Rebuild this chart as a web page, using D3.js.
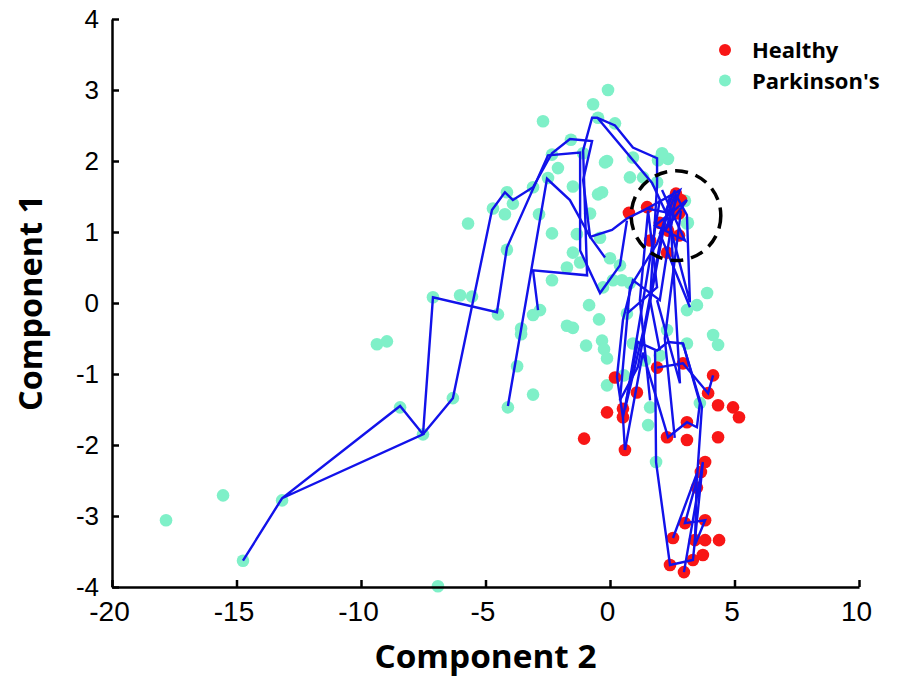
<!DOCTYPE html>
<html>
<head>
<meta charset="utf-8">
<script src="https://cdn.jsdelivr.net/npm/d3@7"></script>
<style>
  body { margin: 0; background: #fff; }
  svg { display: block; }
</style>
</head>
<body>
<div class="canva"></div>
<script>
// Parkinson's samples [component 2, component 1]
const parkinsons = [
  [-0.08, 3.0], [-0.68, 2.80], [-2.69, 2.56], [-0.48, 2.61], [0.2, 2.53], [-1.57, 2.30],
  [-2.33, 2.09], [-0.12, 2.0], [-2.09, 1.90], [-1.08, 2.11], [0.8, 1.77], [-0.48, 1.53],
  [-1.49, 1.64], [-2.49, 1.76], [-3.09, 1.63], [-4.14, 1.56], [-3.9, 1.40], [-4.7, 1.33],
  [-4.22, 1.25], [-5.7, 1.12], [-2.85, 1.25], [-2.33, 0.98], [-1.33, 0.97], [-0.8, 1.26],
  [-0.4, 0.92], [-1.49, 0.71], [-1.2, 0.57], [-1.73, 0.50], [-2.33, 0.32], [-4.14, 0.75],
  [0.0, 0.63], [0.4, 0.53], [0.12, 0.32], [-0.28, 0.22], [0.48, 0.32], [0.8, 0.28],
  [0.92, 2.05], [2.33, 2.03], [1.93, 2.01], [1.33, 1.77], [3.01, 1.44], [3.09, 1.12],
  [3.9, 0.14], [-6.02, 0.11], [-7.11, 0.08], [-5.54, 0.09], [-4.5, -0.16], [-2.81, -0.10],
  [-3.09, -0.17], [-3.57, -0.36], [-3.57, -0.44], [-3.73, -0.89], [-3.09, -1.29], [-4.1, -1.47],
  [-6.31, -1.34], [-7.51, -1.85], [-8.43, -1.47], [-9.36, -0.58], [-8.96, -0.54], [-15.54, -2.71],
  [-17.83, -3.06], [-13.17, -2.78], [-14.74, -3.63], [-6.91, -3.99], [-1.73, -0.32], [-1.49, -0.35],
  [-0.84, -0.03], [-0.44, -0.23], [-0.96, -0.6], [-0.32, -0.53], [-0.24, -0.65], [-0.12, -0.78],
  [-0.12, -1.16], [0.56, -1.02], [0.68, -0.15], [0.92, -0.57], [3.49, -0.03], [3.09, -0.10],
  [4.14, -0.45], [4.34, -0.59], [1.4, -0.81], [2.0, -0.74], [3.09, -0.57], [2.29, -0.38],
  [1.61, -1.47], [1.53, -1.72], [3.61, -1.41], [1.85, -2.24], [2.09, 2.11], [-0.2, 1.98],
  [1.89, 1.70], [3.13, 1.13], [-0.32, 1.56]
];

// Healthy samples [component 2, component 1]
const healthy = [
  [0.76, 1.27], [1.49, 1.35], [2.65, 1.54], [2.53, 1.40], [2.77, 1.26], [2.33, 1.02],
  [2.77, 0.95], [1.61, 0.88], [2.29, 0.71], [2.0, 1.13], [2.85, 1.45], [1.89, -0.91],
  [2.93, -0.85], [0.2, -1.05], [1.08, -1.26], [-0.12, -1.54], [0.52, -1.49], [0.52, -1.61],
  [-1.04, -1.91], [0.6, -2.07], [4.14, -1.02], [3.94, -1.27], [4.34, -1.44], [4.94, -1.47],
  [5.18, -1.61], [3.09, -1.68], [2.29, -1.89], [3.09, -1.93], [4.34, -1.89], [3.82, -2.24],
  [3.65, -2.38], [3.49, -2.60], [3.82, -3.06], [3.01, -3.10], [2.53, -3.31], [3.41, -3.34],
  [3.82, -3.34], [4.38, -3.34], [3.73, -3.55], [3.33, -3.62], [2.41, -3.69], [2.97, -3.79]
];

// trajectories (blue lines)
const trajectories = [
  [[-14.74, -3.63], [-13.17, -2.75], [-8.43, -1.45], [-7.51, -1.85], [-13.17, -2.75]],
  [[-7.51, -1.85], [-7.11, 0.08], [-4.54, -0.13], [-4.14, 0.78], [-2.49, 2.08], [-1.2, 2.12],
   [-1.2, 0.74], [-0.4, 0.14], [0.4, 0.53], [0.68, 1.16]],
  [[-7.51, -1.85], [-6.31, -1.34], [-4.74, 1.31], [-4.22, 1.56], [-3.9, 1.45], [-3.09, 1.63],
   [-2.33, 2.11], [-1.61, 2.31], [-0.72, 2.28], [-1.08, 1.73], [-0.8, 0.93], [0.08, 1.03],
   [0.68, 1.19], [1.49, 1.33], [2.21, 1.28], [2.61, 1.59]],
  [[-4.1, -1.45], [-2.53, 1.75], [-1.61, 1.45], [-0.8, 0.93], [-0.2, 0.64]],
  [[-2.89, -0.10], [-3.09, 0.46], [-0.92, 0.39], [-1.08, 2.15], [-0.72, 2.61], [-0.52, 2.61],
   [0.2, 2.5], [0.92, 2.19], [1.89, 2.04], [1.89, 1.66], [1.61, 0.04], [2.0, -0.67]],
  [[-0.48, 2.60], [1.69, 1.69], [2.29, 1.24], [3.21, 0.01], [3.09, 1.24], [2.65, 1.52],
   [2.0, 0.04], [0.92, 0.32], [0.52, -0.24], [0.28, -1.04], [0.52, -1.61], [0.6, -2.07]],
  [[0.6, -2.07], [1.32, -0.70], [2.33, -1.89], [3.09, -1.68], [3.49, -1.75], [3.61, -1.41],
   [2.93, -0.57], [2.33, -0.55], [1.89, -0.67], [1.12, -0.55], [0.52, -1.61]],
  [[1.89, -0.91], [2.93, -0.85], [3.94, -1.27], [4.14, -1.02]],
  [[2.93, -0.57], [3.69, -1.47], [3.49, -2.49], [3.01, -3.10], [3.82, -3.06], [3.41, -3.41],
   [3.49, -2.40], [2.53, -3.31]],
  [[1.81, -0.67], [1.85, -2.24], [2.41, -3.69], [3.33, -3.62], [3.73, -2.24], [2.97, -3.79]],
  [[0.4, -1.37], [0.8, 0.22], [1.89, 0.84], [2.61, 1.52], [2.0, 0.98], [3.21, -0.06]],
  [[2.41, 1.30], [2.81, -1.13], [1.89, 0.04]],
  [[0.68, -0.15], [1.89, 0.22], [1.53, 1.30], [1.2, 0.04], [1.61, -1.37]],
  [[1.49, 1.33], [2.81, 1.59], [2.21, 1.02], [3.09, 1.45], [1.81, 1.09], [3.01, 0.88], [2.09, 1.59]],
  [[2.41, 1.52], [1.12, -0.9], [0.4, -1.37]],
  [[2.0, 1.45], [0.6, -1.5], [1.4, -0.3], [2.2, 1.2]],
  [[2.85, 1.3], [2.2, -0.5], [2.6, -1.9]]
];

const xTicks = [-20, -15, -10, -5, 0, 5, 10];
const yTicks = [-4, -3, -2, -1, 0, 1, 2, 3, 4];
const legendNames = ['Healthy', "Parkinson's"];
const highlight = { cx: 2.65, cy: 1.23, rx: 1.8 };

const colors = { healthy: '#f81616', parkinsons: '#7ff0c8', line: '#1212ea' };

const svg = d3.select('.canva').append('svg')
      .attr('width', 898)
      .attr('height', 678);

const margin = { top: 19, right: 39, bottom: 91, left: 112 };
const width = 898 - margin.left - margin.right;
const height = 678 - margin.top - margin.bottom;

const graph = svg.append('g')
      .attr('transform', `translate(${margin.left}, ${margin.top})`);

const x = d3.scaleLinear().domain([-20, 10]).range([0, width]);
const y = d3.scaleLinear().domain([-4, 4]).range([height, 0]);

// points
graph.selectAll('circle.pk')
  .data(parkinsons)
  .enter().append('circle')
  .attr('class', 'pk')
  .attr('cx', d => x(d[0]))
  .attr('cy', d => y(d[1]))
  .attr('r', 6.3)
  .attr('fill', colors.parkinsons);

graph.selectAll('circle.hl')
  .data(healthy)
  .enter().append('circle')
  .attr('class', 'hl')
  .attr('cx', d => x(d[0]))
  .attr('cy', d => y(d[1]))
  .attr('r', 6.3)
  .attr('fill', colors.healthy);

// trajectories
const line = d3.line().x(d => x(d[0])).y(d => y(d[1]));
graph.selectAll('path.traj')
  .data(trajectories)
  .enter().append('path')
  .attr('class', 'traj')
  .attr('d', line)
  .attr('fill', 'none')
  .attr('stroke', colors.line)
  .attr('stroke-width', 2.4);

// dashed highlight circle
graph.append('circle')
  .attr('cx', x(highlight.cx))
  .attr('cy', y(highlight.cy))
  .attr('r', x(highlight.cx + highlight.rx) - x(highlight.cx))
  .attr('fill', 'none')
  .attr('stroke', '#000')
  .attr('stroke-width', 3.5)
  .attr('stroke-dasharray', '13,8');

// axes (plain hyphen for negatives, like the original)
const xAxis = d3.axisBottom(x).tickValues(xTicks).tickFormat(d => String(d))
  .tickSize(-7).tickSizeOuter(0).tickPadding(14);
const yAxis = d3.axisLeft(y).tickValues(yTicks).tickFormat(d => String(d))
  .tickSize(-7).tickSizeOuter(0).tickPadding(13);

const xAxisGroup = graph.append('g')
  .attr('transform', `translate(0, ${height})`)
  .call(xAxis);
const yAxisGroup = graph.append('g').call(yAxis);

[xAxisGroup, yAxisGroup].forEach(g => {
  g.select('.domain').attr('stroke', '#000').attr('stroke-width', 2.5);
  g.selectAll('.tick line').attr('stroke', '#000').attr('stroke-width', 2.5);
  g.selectAll('.tick text')
    .attr('fill', '#000')
    .style('font-family', '"Liberation Sans", Arial, sans-serif');
});
xAxisGroup.selectAll('.tick text').style('font-size', '28px').attr('x', -3);
yAxisGroup.selectAll('.tick text').style('font-size', '26px');

// axis titles
svg.append('text')
  .attr('x', margin.left + width / 2)
  .attr('y', 668)
  .attr('text-anchor', 'middle')
  .attr('textLength', 222)
  .attr('lengthAdjust', 'spacingAndGlyphs')
  .style('font-family', '"Open Sans", sans-serif')
  .style('font-weight', 'bold')
  .style('font-size', '33px')
  .text('Component 2');

svg.append('text')
  .attr('transform', `translate(42, ${margin.top + height / 2}) rotate(-90)`)
  .attr('text-anchor', 'middle')
  .attr('textLength', 216)
  .attr('lengthAdjust', 'spacingAndGlyphs')
  .style('font-family', '"Open Sans", sans-serif')
  .style('font-weight', 'bold')
  .style('font-size', '33px')
  .text('Component 1');

// legend
const legend = svg.append('g').attr('transform', 'translate(725, 50)');
legendNames.forEach((name, i) => {
  const row = legend.append('g').attr('transform', `translate(0, ${i * 30.5})`);
  row.append('circle')
    .attr('r', 6)
    .attr('fill', i === 0 ? colors.healthy : colors.parkinsons);
  row.append('text')
    .attr('x', 27)
    .attr('y', 8)
    .style('font-family', '"Open Sans", sans-serif')
    .style('font-weight', 'bold')
    .style('font-size', '22px')
    .text(name);
});
</script>
</body>
</html>
